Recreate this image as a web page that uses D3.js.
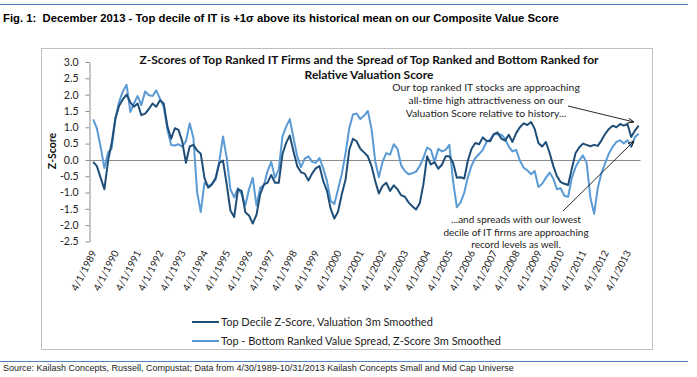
<!DOCTYPE html>
<html>
<head>
<meta charset="utf-8">
<script src="https://cdn.jsdelivr.net/npm/d3@7"></script>
<style>
  body { margin: 0; background: #fff; }
  svg { display: block; }
</style>
</head>
<body>
<svg width="697" height="377"></svg>
<script>
// bimonthly readings, Apr 1989 .. Oct 2013 (month-end)
const topDecile = [
  -0.06, -0.19, -0.55, -0.9, -0.02, 0.52, 1.27, 1.66, 1.86, 2.0,
  1.76, 1.63, 1.73, 1.37, 1.42, 1.56, 1.73, 1.63, 1.83, 1.73,
  1.02, 0.65, 0.97, 0.92, 0.57, -0.09, 0.41, 0.46, 0.29, 0.19,
  -0.55, -0.85, -0.75, -0.55, -0.09, -0.02, -0.75, -1.55, -1.75, -0.9,
  -0.95, -1.6, -1.7, -1.95, -1.68, -1.05, -0.75, -0.7, -0.46, -0.7,
  -0.7, 0.18, 0.52, 0.75, 0.26, -0.19, -0.38, -0.42, -0.63, -0.42,
  -0.26, -0.19, -0.65, -0.95, -1.5, -1.8, -1.58, -1.05, -0.6, 0.31,
  0.65, 0.57, 0.34, 0.23, 0.11, -0.19, -0.65, -1.03, -0.8, -0.7,
  -0.95, -0.78, -0.9, -1.08, -1.13, -1.3, -1.42, -1.52, -1.33, -0.75,
  0.11, -0.14, -0.07, -0.27, -0.14, 0.11, 0.11, -0.09, -0.55, -0.53,
  -0.57, -0.02, 0.34, 0.52, 0.48, 0.69, 0.59, 0.57, 0.79, 0.84,
  0.65, 0.59, 0.77, 0.55, 0.82, 1.0, 1.12, 1.07, 1.16, 0.95,
  0.52, 0.41, 0.55, 0.21, -0.19, -0.5, -0.68, -0.73, -0.77, -0.26,
  0.21, 0.38, 0.5, 0.46, 0.42, 0.46, 0.43, 0.6, 0.8, 0.95,
  1.05, 1.0, 1.1, 1.05, 1.1, 0.7, 0.9, 1.05
];
const valueSpread = [
  1.24, 0.97, 0.4, -0.25, 0.23, 0.35, 1.27, 1.78, 2.1, 2.3,
  1.47, 1.73, 1.96, 1.68, 2.1, 1.98, 1.96, 2.13, 1.88, 1.63,
  0.92, 0.46, 0.44, 0.48, 0.41, 0.57, 1.12, 0.67, -1.0, -1.6,
  -0.7, -0.8, -0.73, -0.6, -0.04, 0.72, 0.06, -0.9, -1.15, -0.87,
  -1.05, -1.4, -0.9, -0.55, -1.4, -0.85, -0.78, -0.34, -0.06, -0.55,
  -0.29, 0.72, 1.02, 1.25, 0.67, 0.11, -0.22, 0.04, 0.11, -0.06,
  -0.09, 0.06, -0.26, -0.65, -1.25, -1.35, -0.9, -0.44, 0.21, 0.97,
  1.39, 1.42, 1.25, 1.35, 1.5, 0.95, -0.04, -0.53, -0.06, 0.21,
  0.16, 0.48, 0.34, -0.16, -0.34, -0.44, -0.41, -0.36, -0.19, 0.06,
  0.38, 0.31, -0.06, 0.34, 0.26, 0.31, 0.46, -0.65, -1.45, -1.3,
  -1.0, -0.53, -0.17, 0.06, 0.18, 0.31, 0.55, 0.62, 0.79, 0.79,
  0.77, 0.65, 0.41, 0.26, 0.31, -0.02, -0.24, -0.32, -0.44, -0.34,
  -0.83, -0.73, -0.55, -0.39, -0.57, -0.9, -0.87, -1.1, -1.13, -0.55,
  -0.22, -0.02, 0.14, -0.09, -1.15, -1.65, -0.85, -0.4, -0.1, 0.2,
  0.4, 0.55, 0.6, 0.5, 0.6, 0.4, 0.7, 0.8
];
const yTicks = [3.0, 2.5, 2.0, 1.5, 1.0, 0.5, 0.0, -0.5, -1.0, -1.5, -2.0, -2.5];
const tickYears = d3.range(1989, 2014);
const seriesNames = [
  'Top Decile Z-Score, Valuation 3m Smoothed',
  'Top - Bottom Ranked Value Spread, Z-Score 3m Smoothed'
];
const noteTop = ['Our top ranked IT stocks are approaching', 'all-time high attractiveness on our', 'Valuation Score relative to history...'];
const noteBottom = ['...and spreads with our lowest', 'decile of IT firms are approaching', 'record levels as well.'];

const darkBlue = '#1f4e79';
const lightBlue = '#5b9bd5';
const chartFont = 'Lato, "Open Sans", sans-serif';

// month-end dates every second month
const dates = topDecile.map((d, i) => d3.timeDay.offset(d3.timeMonth.offset(new Date(1989, 4, 1), 2 * i), -1));

const svg = d3.select('svg');
const width = +svg.attr('width');

svg.append('rect').attr('width', width).attr('height', 377).attr('fill', '#fff');

// page furniture
svg.append('line').attr('x1', 0).attr('x2', 688).attr('y1', 4.5).attr('y2', 4.5)
  .attr('stroke', '#4f81bd').attr('stroke-width', 1);
svg.append('text').attr('x', 3).attr('y', 22)
  .attr('font-family', '"Liberation Sans", Arial, sans-serif').attr('font-weight', 'bold').attr('font-size', 11.3)
  .attr('fill', '#000').style('white-space', 'pre')
  .text('Fig. 1:  December 2013 - Top decile of IT is +1\u03c3 above its historical mean on our Composite Value Score');
svg.append('line').attr('x1', 0).attr('x2', 688).attr('y1', 361.5).attr('y2', 361.5)
  .attr('stroke', '#4f81bd').attr('stroke-width', 1);
svg.append('text').attr('x', 3).attr('y', 371)
  .attr('font-family', '"Liberation Sans", Arial, sans-serif').attr('font-size', 9).attr('fill', '#222')
  .text('Source: Kailash Concepts, Russell, Compustat; Data from 4/30/1989-10/31/2013 Kailash Concepts Small and Mid Cap Universe');

// chart box
svg.append('rect').attr('x', 41.5).attr('y', 48.5).attr('width', 611).attr('height', 301)
  .attr('fill', 'none').attr('stroke', '#bfbfbf').attr('stroke-width', 1);

const xScale = d3.scaleTime()
  .domain([new Date(1989, 2, 1), new Date(2013, 10, 30)])
  .range([89.5, 640.5]);
const yScale = d3.scaleLinear()
  .domain([-2.5, 3.0])
  .range([241.5, 62]);

// y axis
const yAxis = svg.append('g')
  .attr('transform', 'translate(89.5,0)')
  .call(d3.axisLeft(yScale).tickValues(yTicks).tickFormat(d3.format('.1f')).tickSize(4).tickSizeOuter(0));
yAxis.select('.domain').attr('stroke', '#8c8c8c');
yAxis.selectAll('.tick line').attr('stroke', '#8c8c8c');
yAxis.selectAll('.tick text')
  .attr('font-family', chartFont).attr('font-size', 10.5).attr('fill', '#222').attr('x', -11)
  .text(d => d < 0 ? '-' + d3.format('.1f')(-d) : d3.format('.1f')(d));

// zero line (category axis)
svg.append('line')
  .attr('x1', 89.5).attr('x2', xScale.range()[1])
  .attr('y1', Math.round(yScale(0)) + 0.5).attr('y2', Math.round(yScale(0)) + 0.5)
  .attr('stroke', '#8c8c8c').attr('stroke-width', 1);

// x labels, rotated, at the bottom
const xAxis = svg.append('g')
  .attr('transform', 'translate(0,251)')
  .call(d3.axisBottom(xScale)
    .tickValues(tickYears.map(y => new Date(y, 3, 1)))
    .tickFormat(d3.timeFormat('%-m/%-d/%Y'))
    .tickSize(0));
xAxis.select('.domain').remove();
xAxis.selectAll('.tick text')
  .attr('font-family', chartFont).attr('font-size', 10).attr('fill', '#222')
  .attr('text-anchor', 'end')
  .attr('dy', '0.35em')
  .attr('transform', 'translate(2,0) rotate(-63)')
  .attr('y', 0);

// series
const line = d3.line()
  .x((d, i) => xScale(dates[i]))
  .y(d => yScale(d));

svg.append('path').datum(valueSpread)
  .attr('d', line).attr('fill', 'none')
  .attr('stroke', lightBlue).attr('stroke-width', 2).attr('stroke-linejoin', 'round');
svg.append('path').datum(topDecile)
  .attr('d', line).attr('fill', 'none')
  .attr('stroke', darkBlue).attr('stroke-width', 2).attr('stroke-linejoin', 'round');

// chart title
const title = svg.append('text')
  .attr('font-family', chartFont).attr('font-weight', 'bold').attr('font-size', 12)
  .attr('fill', '#111').attr('text-anchor', 'middle');
title.append('tspan').attr('x', 369).attr('y', 64)
  .text('Z-Scores of Top Ranked IT Firms and the Spread of Top Ranked and Bottom Ranked for');
title.append('tspan').attr('x', 369).attr('y', 79).text('Relative Valuation Score');

svg.append('text')
  .attr('transform', 'translate(56,151) rotate(-90)')
  .attr('text-anchor', 'middle')
  .attr('font-family', chartFont).attr('font-weight', 'bold').attr('font-size', 10.5).attr('fill', '#111')
  .text('Z-Score');

// annotations
svg.append('defs').append('marker')
  .attr('id', 'arrow').attr('viewBox', '0 0 10 10').attr('refX', 10).attr('refY', 5)
  .attr('markerWidth', 7).attr('markerHeight', 7).attr('orient', 'auto')
  .append('path').attr('d', 'M0,1 L10,5 L0,9').attr('fill', 'none').attr('stroke', '#111').attr('stroke-width', 1.4);

const note1 = svg.append('text').attr('font-family', chartFont).attr('font-size', 10.4)
  .attr('fill', '#222').attr('text-anchor', 'middle');
noteTop.forEach((t, i) => note1.append('tspan').attr('x', 486).attr('y', 91 + i * 12.8).text(t));
const note2 = svg.append('text').attr('font-family', chartFont).attr('font-size', 10)
  .attr('fill', '#222').attr('text-anchor', 'middle');
noteBottom.forEach((t, i) => note2.append('tspan').attr('x', 516).attr('y', 223 + i * 12.5).text(t));

svg.append('line').attr('x1', 568).attr('y1', 106).attr('x2', 634).attr('y2', 122)
  .attr('stroke', '#111').attr('stroke-width', 0.9).attr('marker-end', 'url(#arrow)');
svg.append('line').attr('x1', 563).attr('y1', 211).attr('x2', 634).attr('y2', 141)
  .attr('stroke', '#111').attr('stroke-width', 0.9).attr('marker-end', 'url(#arrow)');

// legend
const legend = svg.append('g').attr('font-family', chartFont).attr('font-size', 11).attr('fill', '#222');
[darkBlue, lightBlue].forEach((c, i) => {
  const y = 322 + i * 19;
  legend.append('line').attr('x1', 192).attr('x2', 219).attr('y1', y).attr('y2', y)
    .attr('stroke', c).attr('stroke-width', 2);
  legend.append('text').attr('x', 221).attr('y', y + 3.5).text(seriesNames[i]);
});
</script>
</body>
</html>
